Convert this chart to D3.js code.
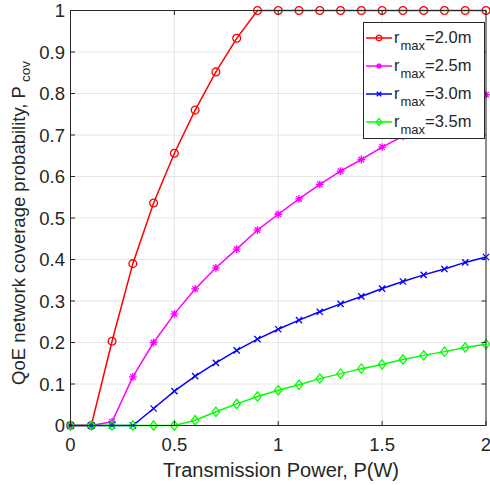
<!DOCTYPE html>
<html>
<head>
<meta charset="utf-8">
<title>QoE coverage</title>
<script src="https://cdn.jsdelivr.net/npm/d3@7"></script>
<style>
	body, html{
		margin: 0;
		padding: 0;
		background: #fff;
	}
	svg text{
		font-family: 'Liberation Sans', Arial, sans-serif;
		fill: #262626;
	}
</style>
</head>
<body>
<svg id="chart" width="490" height="485"></svg>
<script>
	// values
	var power = [0, 0.1, 0.2, 0.3, 0.4, 0.5, 0.6, 0.7, 0.8, 0.9, 1.0, 1.1, 1.2, 1.3, 1.4, 1.5, 1.6, 1.7, 1.8, 1.9, 2.0];
	var r20 = [0, 0, 0.203, 0.39, 0.536, 0.656, 0.760, 0.852, 0.933, 1, 1, 1, 1, 1, 1, 1, 1, 1, 1, 1, 1];
	var r25 = [0, 0, 0.009, 0.117, 0.200, 0.269, 0.329, 0.380, 0.425, 0.471, 0.509, 0.546, 0.581, 0.613, 0.641, 0.671, 0.697, 0.723, 0.748, 0.773, 0.797];
	var r30 = [0, 0, 0, 0, 0.041, 0.083, 0.119, 0.151, 0.181, 0.208, 0.232, 0.254, 0.274, 0.293, 0.311, 0.330, 0.347, 0.363, 0.377, 0.393, 0.406];
	var r35 = [0, 0, 0, 0, 0, 0, 0.0125, 0.033, 0.052, 0.070, 0.085, 0.098, 0.113, 0.125, 0.137, 0.147, 0.159, 0.169, 0.178, 0.188, 0.196];
	var seriesNames = ['2.0m', '2.5m', '3.0m', '3.5m'];
	var seriesColors = ['#ff0000', '#ff00ff', '#0000ff', '#00ff00'];
	var seriesMarkers = ['circle', 'asterisk', 'cross', 'diamond'];
	var xTicks = [0, 0.5, 1, 1.5, 2];
	var yTicks = [0, 0.1, 0.2, 0.3, 0.4, 0.5, 0.6, 0.7, 0.8, 0.9, 1];

	var axL = 70.5, axR = 486, axT = 10.5, axB = 425.5;
	var svg = d3.select('#chart');
	var x = d3.scaleLinear().domain([0, 2]).range([axL, axR]);
	var y = d3.scaleLinear().domain([0, 1]).range([axB, axT]);

	// grid
	var grid = svg.append('g');
	grid.selectAll('.gx').data(xTicks).enter().append('line')
		.attr('x1', d => x(d)).attr('x2', d => x(d)).attr('y1', axT).attr('y2', axB)
		.attr('stroke', '#e6e6e6').attr('stroke-width', 1);
	grid.selectAll('.gy').data(yTicks).enter().append('line')
		.attr('y1', d => y(d)).attr('y2', d => y(d)).attr('x1', axL).attr('x2', axR)
		.attr('stroke', '#e6e6e6').attr('stroke-width', 1);

	function markerPath(type, s){
		var p = d3.path();
		if (type == 'circle'){
			p.moveTo(s, 0); p.arc(0, 0, s, 0, Math.PI * 2);
		} else if (type == 'asterisk'){
			var a = s * 0.72;
			p.moveTo(-s, 0); p.lineTo(s, 0);
			p.moveTo(0, -s); p.lineTo(0, s);
			p.moveTo(-a, -a); p.lineTo(a, a);
			p.moveTo(-a, a); p.lineTo(a, -a);
		} else if (type == 'cross'){
			var c = s * 0.8;
			p.moveTo(-c, -c); p.lineTo(c, c);
			p.moveTo(-c, c); p.lineTo(c, -c);
		} else {
			p.moveTo(0, -s * 1.2); p.lineTo(s * 0.95, 0); p.lineTo(0, s * 1.2); p.lineTo(-s * 0.95, 0); p.closePath();
		}
		return p.toString();
	}

	var allSeries = [r20, r25, r30, r35];
	var line = d3.line().x(d => x(d[0])).y(d => y(d[1]));
	var plot = svg.append('g');
	allSeries.forEach(function(vals, i){
		var pts = power.map((p, j) => [p, vals[j]]);
		plot.append('path').datum(pts).attr('d', line)
			.attr('fill', 'none').attr('stroke', seriesColors[i]).attr('stroke-width', 1.5);
		plot.selectAll('.m' + i).data(pts).enter().append('path')
			.attr('transform', d => 'translate(' + x(d[0]) + ',' + y(d[1]) + ')')
			.attr('d', markerPath(seriesMarkers[i], 3.9))
			.attr('fill', 'none').attr('stroke', seriesColors[i]).attr('stroke-width', 1.3);
	});

	// axes box with inward ticks on all sides
	var axes = svg.append('g');
	axes.append('rect').attr('x', axL).attr('y', axT).attr('width', axR - axL).attr('height', axB - axT)
		.attr('fill', 'none').attr('stroke', '#262626').attr('stroke-width', 1);
	var tl = 4.5;
	xTicks.forEach(function(t){
		axes.append('line').attr('x1', x(t)).attr('x2', x(t)).attr('y1', axB).attr('y2', axB - tl).attr('stroke', '#262626');
		axes.append('line').attr('x1', x(t)).attr('x2', x(t)).attr('y1', axT).attr('y2', axT + tl).attr('stroke', '#262626');
	});
	yTicks.forEach(function(t){
		axes.append('line').attr('y1', y(t)).attr('y2', y(t)).attr('x1', axL).attr('x2', axL + tl).attr('stroke', '#262626');
		axes.append('line').attr('y1', y(t)).attr('y2', y(t)).attr('x1', axR).attr('x2', axR - tl).attr('stroke', '#262626');
	});
	axes.selectAll('.xt').data(xTicks).enter().append('text')
		.attr('x', d => x(d)).attr('y', 451).attr('text-anchor', 'middle')
		.attr('font-size', 18.5).text(d => d3.format('')(d));
	axes.selectAll('.yt').data(yTicks).enter().append('text')
		.attr('x', 65).attr('y', d => y(d) + 6.5).attr('text-anchor', 'end')
		.attr('font-size', 18.5).text(d => d3.format('')(d));

	svg.append('text').attr('x', 281).attr('y', 477).attr('text-anchor', 'middle')
		.attr('font-size', 20).text('Transmission Power, P(W)');

	var yl = svg.append('text').attr('transform', 'translate(25,223) rotate(-90)')
		.attr('text-anchor', 'middle').attr('font-size', 18.5);
	yl.append('tspan').text('QoE network coverage probability, P');
	yl.append('tspan').attr('font-size', 13.5).attr('dy', 5).attr('dx', 4).text('cov');

	// legend
	var lg = svg.append('g').attr('transform', 'translate(363,22)');
	lg.append('rect').attr('x', 0.5).attr('y', 0.5).attr('width', 121).attr('height', 116)
		.attr('fill', '#fff').attr('stroke', '#262626').attr('stroke-width', 1);
	seriesNames.forEach(function(name, i){
		var cy = 16 + i * 28;
		lg.append('line').attr('x1', 3).attr('x2', 29).attr('y1', cy).attr('y2', cy)
			.attr('stroke', seriesColors[i]).attr('stroke-width', 1.5);
		lg.append('path').attr('transform', 'translate(16,' + cy + ')')
			.attr('d', markerPath(seriesMarkers[i], 2.8))
			.attr('fill', 'none').attr('stroke', seriesColors[i]).attr('stroke-width', 1.3);
		var t = lg.append('text').attr('x', 31).attr('y', cy + 5).attr('font-size', 16.5);
		t.append('tspan').text('r');
		t.append('tspan').attr('dy', 7).attr('font-size', 13).attr('dx', 1).text('max');
		t.append('tspan').attr('dy', -7).text('=' + name);
	});
</script>
</body>
</html>
